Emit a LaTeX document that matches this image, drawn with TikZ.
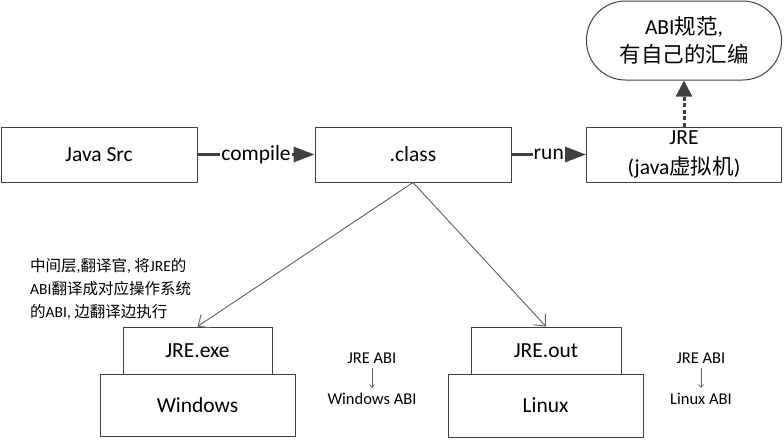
\documentclass[tikz,border=0pt]{standalone}
\usepackage{fontspec}
\usepackage{xcolor}
\usetikzlibrary{arrows.meta}
\setmainfont{Carlito}
\newfontfamily\cjk{Noto Sans CJK SC}
\definecolor{edgegray}{HTML}{404040}
\definecolor{linegray}{HTML}{606060}

\tikzset{
  box/.style={draw=edgegray,line width=1pt,rectangle,inner sep=0pt,align=center,
    font=\fontsize{21.5}{30}\selectfont},
  flow/.style={draw=edgegray,line width=3pt,-{Triangle[length=21pt,width=15pt]}},
  flowlabel/.style={fill=white,inner sep=1pt,font=\fontsize{21.5}{23}\selectfont},
  split/.style={draw=linegray,line width=0.9pt,-{Straight Barb[length=9pt,width=16pt]}},
  small/.style={inner sep=1pt,font=\fontsize{16.5}{18}\selectfont},
}

\begin{document}
\begin{tikzpicture}[x=1pt,y=-1pt]
            \useasboundingbox (0,0) rectangle (784,439);
            \node (src) at (99,154.5) [box,minimum width=196,minimum height=55] {Java Src};
            \node (cls) at (413,154.5) [box,minimum width=196,minimum height=55] {.class};
            \node (jre) at (684,154.5) [box,minimum width=195,minimum height=55] {JRE\\(java{\cjk 虚拟机})};
            \node (abi) at (684,40.5) [box,rounded corners=39,minimum width=195,minimum height=79,
                font=\fontsize{21.5}{28}\selectfont] {ABI{\cjk 规范},\\{\cjk 有自己的汇编}};
            \node (exe) at (197.5,350.5) [box,minimum width=149,minimum height=47] {JRE.exe};
            \node (win) at (197.5,405) [box,minimum width=195,minimum height=62] {Windows};
            \node (out) at (546,350.5) [box,minimum width=150,minimum height=47] {JRE.out};
            \node (lin) at (545.5,405.5) [box,minimum width=195,minimum height=63] {Linux};
            \node (note) at (30,258) [anchor=north west,align=left,inner sep=0pt,
                font=\fontsize{15.5}{23}\selectfont]
                {{\cjk 中间层},{\cjk 翻译官}, {\cjk 将}JRE{\cjk 的}\\ABI{\cjk 翻译成对应操作系统}\\{\cjk 的}ABI, {\cjk 边翻译边执行}};
            \node (wa) at (372,358) [small] {JRE ABI};
            \node (wb) at (372,399) [small] {Windows ABI};
            \node (la) at (701,358) [small] {JRE ABI};
            \node (lb) at (701,399) [small] {Linux ABI};
            \draw[flow] (src) -- node[flowlabel] {compile} (cls);
            \draw[flow] (cls) -- node[flowlabel] {run} (jre);
            \draw[flow,dash pattern=on 4pt off 2.5pt,-{Triangle[length=16pt,width=16pt]}] (jre) -- (abi);
            \draw[split] (cls.south) -- (exe.north);
            \draw[split] (cls.south) -- (out.north);
            \draw[linegray,line width=0.7pt,-{Straight Barb[length=3pt,width=5pt]},shorten <=3pt,shorten >=4pt] (wa) -- (wb);
            \draw[linegray,line width=0.7pt,-{Straight Barb[length=3pt,width=5pt]},shorten <=3pt,shorten >=4pt] (la) -- (lb);
        \end{tikzpicture}
\end{document}
